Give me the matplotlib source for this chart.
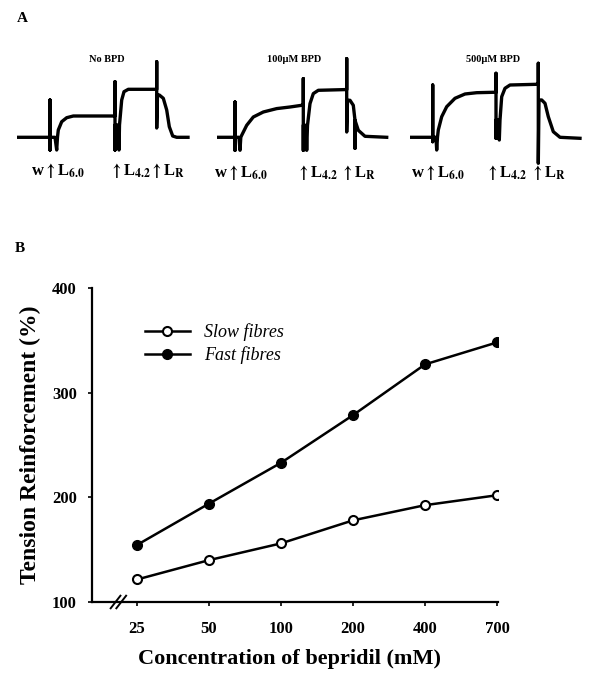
import matplotlib
matplotlib.use("Agg")
import matplotlib.pyplot as plt

# Panel B data
concentrations = ["25", "50", "100", "200", "400", "700"]
slow_fibres = [121.5, 140, 156, 178, 192.5, 202]
fast_fibres = [154.5, 194, 233, 278.5, 327, 348]
y_ticks = [100, 200, 300, 400]

# Panel A force traces (time / force in arbitrary units)
trace_titles = ["No BPD", "100\u03bcM BPD", "500\u03bcM BPD"]
t_nobpd = [0, 31.3, 33.3, 33.3, 33.3, 33.3, 38.3, 40, 40.8, 41.6, 45, 50, 56.6, 96.6, 98.3, 98.3, 98.3,
           98.3, 101.3, 102.3, 102.8, 105, 107.3, 111.6, 138.3, 140, 140, 140, 140.8, 142.6, 146.6, 150,
           152.6, 156, 160, 171.3]
f_nobpd = [0, 0, 0, 37.3, -12.7, 0, 0, -12.7, 0.3, 7.3, 15.6, 19.6, 21.3, 21.3, 21.3, 55.6, -12.7,
           12.3, 12.3, -12.7, 12.3, 37.3, 45.6, 48, 48, 48, 75.6, 9.3, 42.3, 42.3, 39, 27.3,
           10.6, 1.3, 0, 0]
t_100 = [0, 16.3, 18.3, 18.3, 18.3, 18.3, 22.3, 23.3, 24.1, 25, 30, 36.6, 46.6, 60, 73.3, 85, 86.6, 86.6,
         86.6, 86.6, 89.3, 90, 90.8, 93.3, 96.6, 101.6, 128.3, 130, 130, 130, 130.8, 133.3, 136.6,
         138.3, 138.3, 138.3, 141.6, 148.3, 170]
f_100 = [0, 0, 0, 35.3, -13, 0, 0, -13, 0, 2, 12, 20.3, 25.3, 28.7, 30.3, 32, 32, 58.7,
         -13, 12, 12, -13, 12, 33.7, 43.7, 47, 47.7, 47.7, 78.7, 5.3, 37, 37, 32,
         17, -11, 17, 7, 1, 0]
t_500 = [0, 21, 22.7, 22.7, 22.7, 22.7, 26, 26.7, 27.5, 28.3, 31.7, 36.7, 45, 55, 66.7, 83.3, 86, 86,
         86, 86, 89, 89.3, 90, 91.7, 95, 100, 126.7, 128.3, 128.3, 128.3, 129, 131.7, 135, 138.3,
         143.3, 150, 170]
f_500 = [0, 0, 0, 52.3, -4.4, 0, 0, -12.7, 0.3, 7.3, 20.6, 30.6, 39, 43.3, 44.6, 45, 45, 64,
         -1, 17.3, 17.3, -2.7, 17.3, 40.6, 49, 52.3, 53, 53, 74, -26, 37.3, 37.3, 34, 20.6,
         5.6, 0, -1]
traces = [(t_nobpd, f_nobpd), (t_100, f_100), (t_500, f_500)]
trace_labels = [r"w$\uparrow$L$_{6.0}$", r"$\uparrow$L$_{4.2}$", r"$\uparrow$L$_{R}$"]

plt.rcParams["font.family"] = "Liberation Serif"
plt.rcParams["mathtext.fontset"] = "stix"
plt.rcParams["mathtext.default"] = "bf"

W, H = 590, 678
fig = plt.figure(figsize=(W / 100, H / 100), dpi=100)


def fx(px):
    return px / W


def fy(py):
    return 1 - py / H


# ---- panel A ----
fig.text(fx(22), fy(19), "A", fontsize=11, fontweight="bold", ha="center", va="center")
origins = [16.7, 216.7, 410]
title_x = [107, 294, 493]
label_pos = [[(58, 170), (130, 170), (167, 170)],
             [(241, 172), (317, 172), (358, 172)],
             [(438, 172), (506, 172), (548, 172)]]
for i, (t, f) in enumerate(traces):
    ax = fig.add_axes([fx(origins[i]), fy(165), fx(175), 110 / H])
    ax.plot(t, f, color="black", lw=2.4, solid_joinstyle="round")
    ax.set_xlim(0, 175)
    ax.set_ylim(-27.7, 82.3)
    ax.axis("off")
    fig.text(fx(title_x[i]), fy(60), trace_titles[i], fontsize=7.5, fontweight="bold",
             ha="center", va="center")
    for (lx, ly), lab in zip(label_pos[i], trace_labels):
        fig.text(fx(lx), fy(ly), lab, fontsize=12, fontweight="bold", ha="center", va="center")

# ---- panel B ----
fig.text(fx(20), fy(249), "B", fontsize=11, fontweight="bold", ha="center", va="center")
axb = fig.add_axes([fx(92), fy(602), fx(498 - 92), (602 - 288) / H])
xpos = list(range(len(concentrations)))
axb.plot(xpos, slow_fibres, color="black", lw=1.8, marker="o", ms=6.5,
         mfc="white", mec="black", mew=1.5, label="Slow fibres")
axb.plot(xpos, fast_fibres, color="black", lw=1.8, marker="o", ms=7,
         mfc="black", mec="black", label="Fast fibres")
axb.set_xlim(-0.625, 5.014)
axb.set_ylim(100, 400)
axb.set_xticks(xpos)
axb.set_xticklabels(concentrations)
axb.set_yticks(y_ticks)
for s in ["top", "right"]:
    axb.spines[s].set_visible(False)
for s in ["left", "bottom"]:
    axb.spines[s].set_linewidth(1.6)
axb.tick_params(axis="both", direction="out", length=3, width=1.2, labelsize=12)
axb.tick_params(axis="x", pad=11)
axb.tick_params(axis="y", pad=8)
for lab in axb.get_xticklabels() + axb.get_yticklabels():
    lab.set_fontweight("bold")
axb.set_xlabel("Concentration of bepridil (mM)", fontsize=16, fontweight="bold")
axb.xaxis.set_label_coords((289 - 92) / 406, -0.15)
axb.set_ylabel("Tension Reinforcement (%)", fontsize=17, fontweight="bold", labelpad=8)

# axis break marks
for dx in (0.058, 0.072):
    axb.plot([dx - 0.012, dx + 0.012], [-0.02, 0.02], transform=axb.transAxes,
             color="black", lw=1.4, clip_on=False)

leg = axb.legend(loc="upper left", bbox_to_anchor=(0.09, 0.94), frameon=False,
                 handlelength=2.5, handletextpad=0.8, labelspacing=0.3,
                 prop={"family": "Liberation Serif", "style": "italic", "size": 13})

fig.savefig("out.png", dpi=100)
